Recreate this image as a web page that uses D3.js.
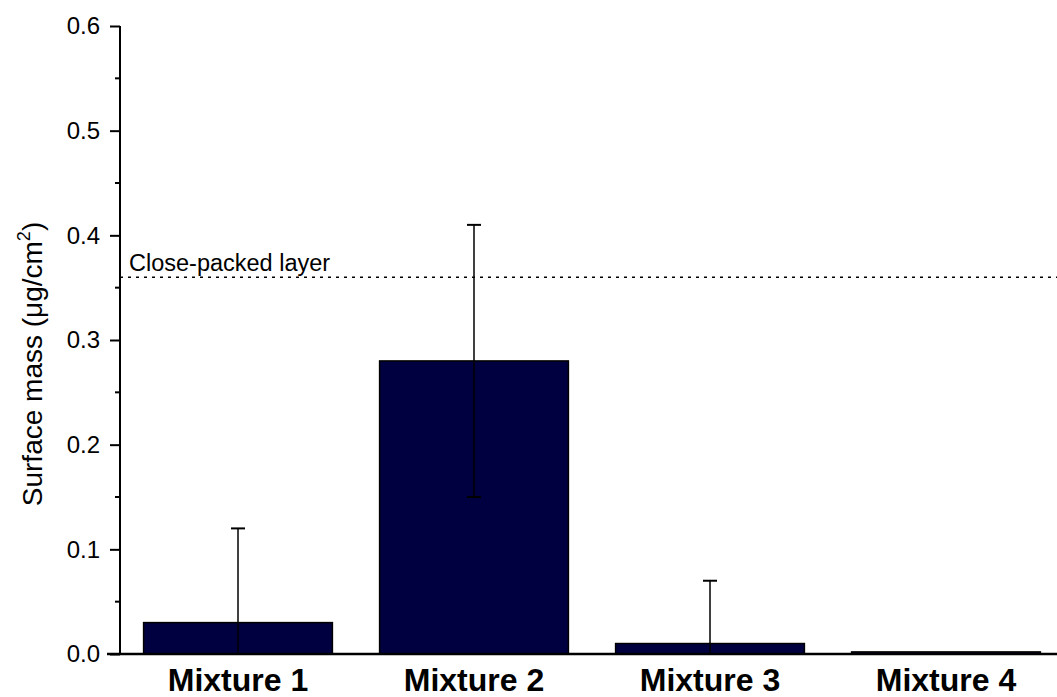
<!DOCTYPE html>
<html>
<head>
<meta charset="utf-8">
<script src="https://cdn.jsdelivr.net/npm/d3@7/dist/d3.min.js"></script>
<style>
  html, body { margin: 0; padding: 0; background: #fff; }
  svg { display: block; font-family: Arial, "Liberation Sans", sans-serif; }
</style>
</head>
<body>
<svg id="chart" width="1057" height="697"></svg>
<script>
// Surface mass per mixture, with standard deviation
const categories = ["Mixture 1", "Mixture 2", "Mixture 3", "Mixture 4"];
const means = [0.03, 0.28, 0.01, 0.002];
const errors = [0.09, 0.13, 0.06, 0];
const yTicks = [0, 0.1, 0.2, 0.3, 0.4, 0.5, 0.6];
const yMinorTicks = [0.05, 0.15, 0.25, 0.35, 0.45, 0.55];
const referenceLevel = 0.36;
const referenceLabel = "Close-packed layer";

(function () {
  const svg = d3.select("#chart");
  const plotLeft = 120, plotRight = 1064, plotTop = 26, plotBottom = 654;
  const font = "Arial, 'Liberation Sans', sans-serif";

  const x = d3.scaleBand().domain(categories).range([plotLeft, plotRight])
    .paddingInner(0.2).paddingOuter(0.1);
  const y = d3.scaleLinear().domain([0, 0.6]).range([plotBottom, plotTop]);

  const data = categories.map((c, i) => ({ c, v: means[i], e: errors[i] }));

  // Bars
  svg.append("g").selectAll("rect").data(data).join("rect")
    .attr("x", d => x(d.c))
    .attr("y", d => y(d.v))
    .attr("width", x.bandwidth())
    .attr("height", d => y(0) - y(d.v))
    .attr("fill", "#000040")
    .attr("stroke", "#000")
    .attr("stroke-width", 1.5);

  // Error bars (upper cap, line drawn down to the lower bound, clipped at zero)
  const eb = svg.append("g").attr("stroke", "#000").attr("stroke-width", 1.5);
  data.filter(d => d.e > 0).forEach(d => {
    const cx = x(d.c) + x.bandwidth() / 2;
    const lo = Math.max(0, d.v - d.e);
    eb.append("line").attr("x1", cx).attr("x2", cx)
      .attr("y1", y(d.v + d.e)).attr("y2", y(lo));
    eb.append("line").attr("x1", cx - 7).attr("x2", cx + 7)
      .attr("y1", y(d.v + d.e)).attr("y2", y(d.v + d.e)).attr("stroke-width", 2);
    if (d.v - d.e > 0) {
      eb.append("line").attr("x1", cx - 7).attr("x2", cx + 7)
        .attr("y1", y(lo)).attr("y2", y(lo)).attr("stroke-width", 2);
    }
  });

  // Reference level
  svg.append("line")
    .attr("x1", plotLeft).attr("x2", 1057)
    .attr("y1", y(referenceLevel)).attr("y2", y(referenceLevel))
    .attr("stroke", "#000").attr("stroke-width", 1.5)
    .attr("stroke-dasharray", "3,5");
  svg.append("text")
    .attr("x", 129).attr("y", y(referenceLevel) - 6)
    .attr("font-size", 23.5).attr("font-family", font).attr("fill", "#000")
    .text(referenceLabel);

  // Y axis
  const yAxis = d3.axisLeft(y).tickValues(yTicks).tickFormat(d3.format(".1f"))
    .tickSize(10).tickPadding(10);
  const gy = svg.append("g").attr("transform", `translate(${plotLeft},0)`).call(yAxis);
  gy.select(".domain").attr("stroke-width", 2).attr("d", `M0,${plotBottom}V${plotTop}`);
  gy.selectAll(".tick line").attr("stroke-width", 2);
  gy.selectAll(".tick text").attr("font-size", 24).attr("font-family", font);
  gy.append("g").selectAll("line").data(yMinorTicks).join("line")
    .attr("x1", -5).attr("x2", 0)
    .attr("y1", d => y(d)).attr("y2", d => y(d))
    .attr("stroke", "#000").attr("stroke-width", 2);

  // X axis
  const xAxis = d3.axisBottom(x).tickSize(0).tickPadding(14);
  const gx = svg.append("g").attr("transform", `translate(0,${plotBottom})`).call(xAxis);
  gx.select(".domain").attr("stroke-width", 2.5).attr("d", `M${plotLeft - 13},0H1057`);
  gx.selectAll(".tick text")
    .attr("font-size", 32).attr("font-weight", "bold")
    .attr("font-family", font).attr("fill", "#000");

  // Y axis title
  const title = svg.append("text")
    .attr("transform", `translate(42,364) rotate(-90)`)
    .attr("text-anchor", "middle").attr("font-size", 28)
    .attr("font-family", font).attr("fill", "#000");
  title.append("tspan").text("Surface mass (\u03bcg/cm");
  title.append("tspan").attr("font-size", 18).attr("dy", -12).text("2");
  title.append("tspan").attr("dy", 12).text(")");
})();
</script>
</body>
</html>
